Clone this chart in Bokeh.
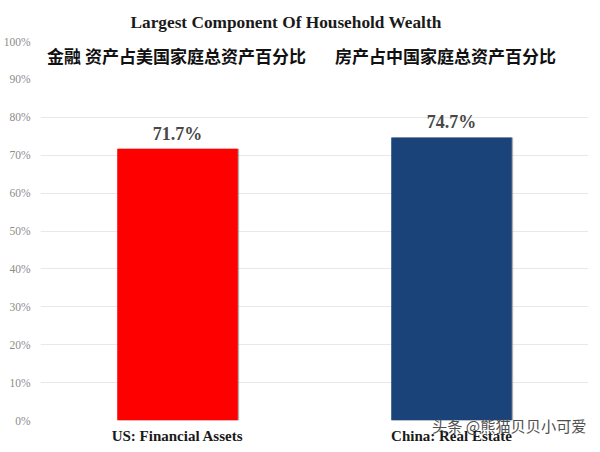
from bokeh.plotting import figure
from bokeh.models import ColumnDataSource, FixedTicker, NumeralTickFormatter, Label, FactorRange, Range1d, Title
from bokeh.core.properties import value
from bokeh.transform import dodge
from bokeh.embed import file_html
from bokeh.resources import INLINE

categories = ["US: Financial Assets", "China: Real Estate"]
shares = [0.717, 0.747]
share_labels = ["71.7%", "74.7%"]
bar_colors = ["#fe0000", "#1a4479"]
axis_ticks = [0, .1, .2, .3, .4, .5, .6, .7, .8, .9, 1.0]
grid_ticks = [0, .1, .2, .3, .4, .5, .6, .7, .8]
title_text = "Largest Component Of  Household Wealth"
caption_us = "金融 资产占美国家庭总资产百分比"
caption_cn = "房产占中国家庭总资产百分比"
watermark = "头条 @熊猫贝贝小可爱"

W, H = 600, 452
p = figure(width=W, height=H, x_range=FactorRange(*categories), y_range=Range1d(0, 1),
           output_backend="svg", toolbar_location=None,
           min_border_left=38, min_border_right=12, min_border_top=40, min_border_bottom=32,
           outline_line_color=None, background_fill_color="white", border_fill_color="white")
p.x_range.range_padding = 0
p.x_range.factor_padding = 0

src = ColumnDataSource(dict(cat=categories, v=shares, lab=share_labels, c=bar_colors))
p.vbar(x=dodge("cat", 0.005, range=p.x_range), top="v", width=0.44, source=src,
       fill_color="#8a8a8a", fill_alpha=0.7, line_color=None)
p.vbar(x="cat", top="v", width=0.44, source=src, fill_color="c", line_color=None)
p.text(x="cat", y="v", text="lab", source=src, text_align="center", text_baseline="bottom",
       y_offset=-5, text_font=value("Liberation Serif"), text_font_size="18px",
       text_font_style="bold", text_color="#484848")

p.yaxis.ticker = FixedTicker(ticks=axis_ticks)
p.yaxis.formatter = NumeralTickFormatter(format="0%")
p.yaxis.major_label_text_font = "Liberation Serif"
p.yaxis.major_label_text_font_size = "11.5px"
p.yaxis.major_label_text_color = "#8c8c8c"
p.yaxis.axis_line_color = None
p.yaxis.major_tick_line_color = None
p.yaxis.minor_tick_line_color = None
p.yaxis.major_label_standoff = 4

p.xaxis.axis_line_color = None
p.xaxis.major_tick_line_color = None
p.xaxis.major_label_text_font = "Liberation Serif"
p.xaxis.major_label_text_font_size = "15px"
p.xaxis.major_label_text_font_style = "bold"
p.xaxis.major_label_text_color = "#1a1a1a"
p.xaxis.major_label_standoff = -10

p.xgrid.grid_line_color = None
p.ygrid.ticker = FixedTicker(ticks=grid_ticks)
p.ygrid.grid_line_color = "#e8e8e8"

def add_text(text, x, y, font, size, color):
    p.add_layout(Label(text=text, x=x, y=y, x_units="canvas", y_units="canvas",
                       text_font=font, text_font_size=size, text_color=color,
                       text_font_style="bold",
                       text_align="center", text_baseline="middle"))

add_text(caption_us, 176, 55, "Noto Sans CJK SC", "17px", "#111111")
add_text(caption_cn, 445, 55, "Noto Sans CJK SC", "17px", "#111111")

p.add_layout(Title(text=title_text, align="left", offset=90, text_font="Liberation Serif",
                   text_font_size="17.3px", text_font_style="bold", text_color="#1a1a1a",
                   standoff=20), "above")
p.add_layout(Title(text=watermark, align="right", offset=2, vertical_align="top",
                   text_font="Noto Sans CJK SC", text_font_size="15.2px",
                   text_font_style="normal", text_color="#505050", standoff=-13), "below")
p.below = [p.below[-1]] + list(p.below[:-1])

open("out.html", "w").write(file_html(p, INLINE))
